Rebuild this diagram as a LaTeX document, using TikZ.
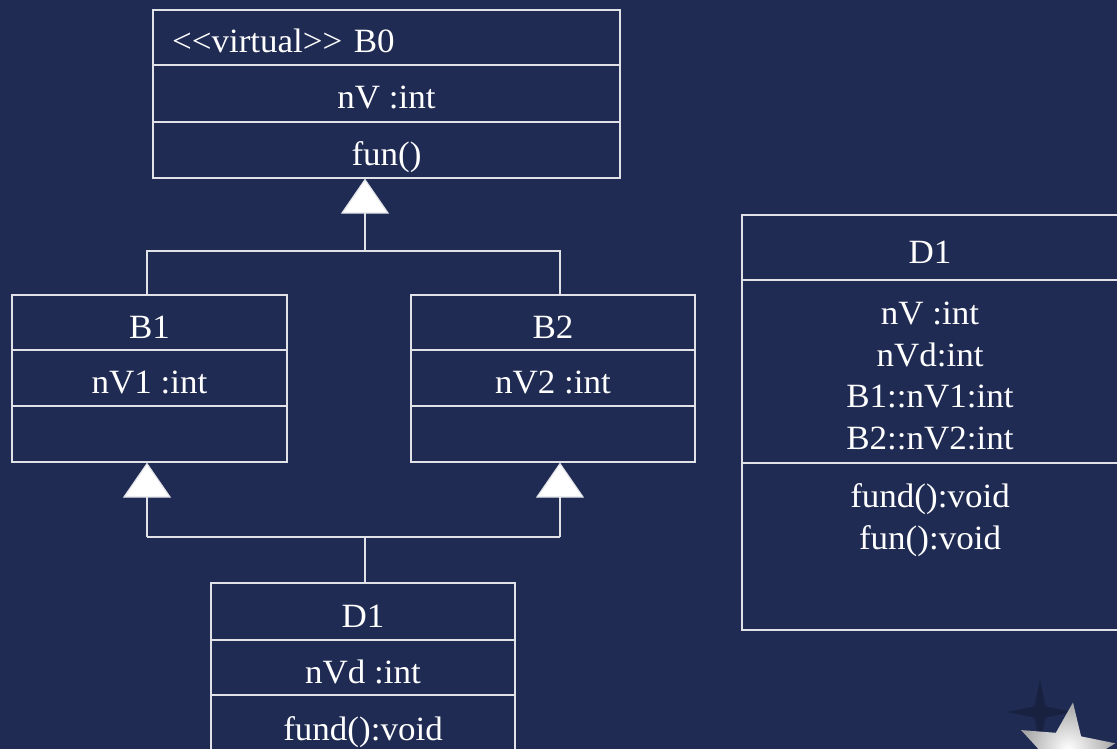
\documentclass[tikz,border=0pt]{standalone}
\usepackage{fontspec}
\setmainfont{Liberation Serif}[FakeStretch=1.03]
\usepackage{tikz}
\usetikzlibrary{arrows.meta, shapes.geometric}
\definecolor{slide}{RGB}{31,43,82}
\definecolor{rule}{RGB}{225,226,232}
\newcommand*{\umlsize}{\fontsize{34}{41.5}\selectfont}

\begin{document}
\begin{tikzpicture}[x=1pt, y=-1pt, line width=1.2pt]
        \useasboundingbox (0,0) rectangle (1117,749);
        \clip (0,0) rectangle (1117,749);
        \fill[slide] (0,0) rectangle (1117,749);

        {\tikzstyle{every node}=[rectangle, draw=rule, text=white, inner sep=0pt,
            align=center, font=\umlsize, text height=31pt, text depth=0pt]
          % virtual base
          \node[minimum width=467pt, minimum height=55pt, text width=429pt, align=left]
            (B0t) at (386.5, 37.5) {<\kern0pt<virtual>\kern0pt> B0};
          \node[minimum width=467pt, minimum height=57pt] (B0a) at (386.5, 93.5) {nV :int};
          \node[minimum width=467pt, minimum height=56pt] (B0o) at (386.5, 150) {fun()};

          % B1, B2
          \foreach \n/\x/\w in {1/149.5/275pt, 2/553/284pt}
          {
            \node[minimum width=\w, minimum height=55pt] (B\n t) at (\x, 322.5) {B\n};
            \node[minimum width=\w, minimum height=56pt] (B\n a) at (\x, 378) {nV\n\ :int};
            \node[minimum width=\w, minimum height=56pt] (B\n o) at (\x, 434) {};
          }

          % derived class
          \node[minimum width=304pt, minimum height=57pt] (D1t) at (363, 611.5) {D1};
          \node[minimum width=304pt, minimum height=55pt] (D1a) at (363, 667.5) {nVd :int};
          \node[minimum width=304pt, minimum height=60pt] (D1o) at (363, 725) {fund():void};

          % flattened view of D1
          \node[minimum width=376pt, minimum height=65pt] (R1t) at (930, 247.5) {D1};
          \node[minimum width=376pt, minimum height=183pt] (R1a) at (930, 371.5) {};
          \node[minimum width=376pt, minimum height=167pt] (R1o) at (930, 546.5) {};
        }
        {\tikzstyle{every node}=[text=white, inner sep=0pt, align=center, font=\umlsize]
          \node (R1v) at (930, 376) {nV :int\\nVd:int\\B1::nV1:int\\B2::nV2:int};
          \node (R1m) at (930, 520) {fund():void\\fun():void};
        }

        \tikzstyle{inherit}=[draw=rule, -{Triangle[width=48pt, length=35pt, fill=white]}]

        \coordinate (up) at (365, 251);
        \coordinate (u1) at (147, 251);
        \coordinate (u2) at (560, 251);
        \coordinate (dn) at (365, 537);
        \coordinate (d1) at (147, 537);
        \coordinate (d2) at (560, 537);

        \draw [rule]
          (B1t.north -| u1) -- (u1) -- (u2) -- (B2t.north -| u2)
          (D1t.north -| dn) -- (dn)
          (d1) -- (d2);

        \draw [inherit] (up) -- (B0o.south -| up);
        \draw [inherit] (d1) -- (B1o.south -| d1);
        \draw [inherit] (d2) -- (B2o.south -| d2);

        % corner star
        \node[star, star points=4, star point ratio=4, minimum size=64pt, inner sep=0pt,
          fill=black, opacity=0.22] (shade) at (1040, 712) {};
        \node[star, star points=5, star point ratio=2.3, minimum size=100pt, inner sep=0pt,
          rotate=-8, shading=radial, inner color=white, outer color=gray!70] (badge)
          at (1066, 752) {};
      \end{tikzpicture}
\end{document}
